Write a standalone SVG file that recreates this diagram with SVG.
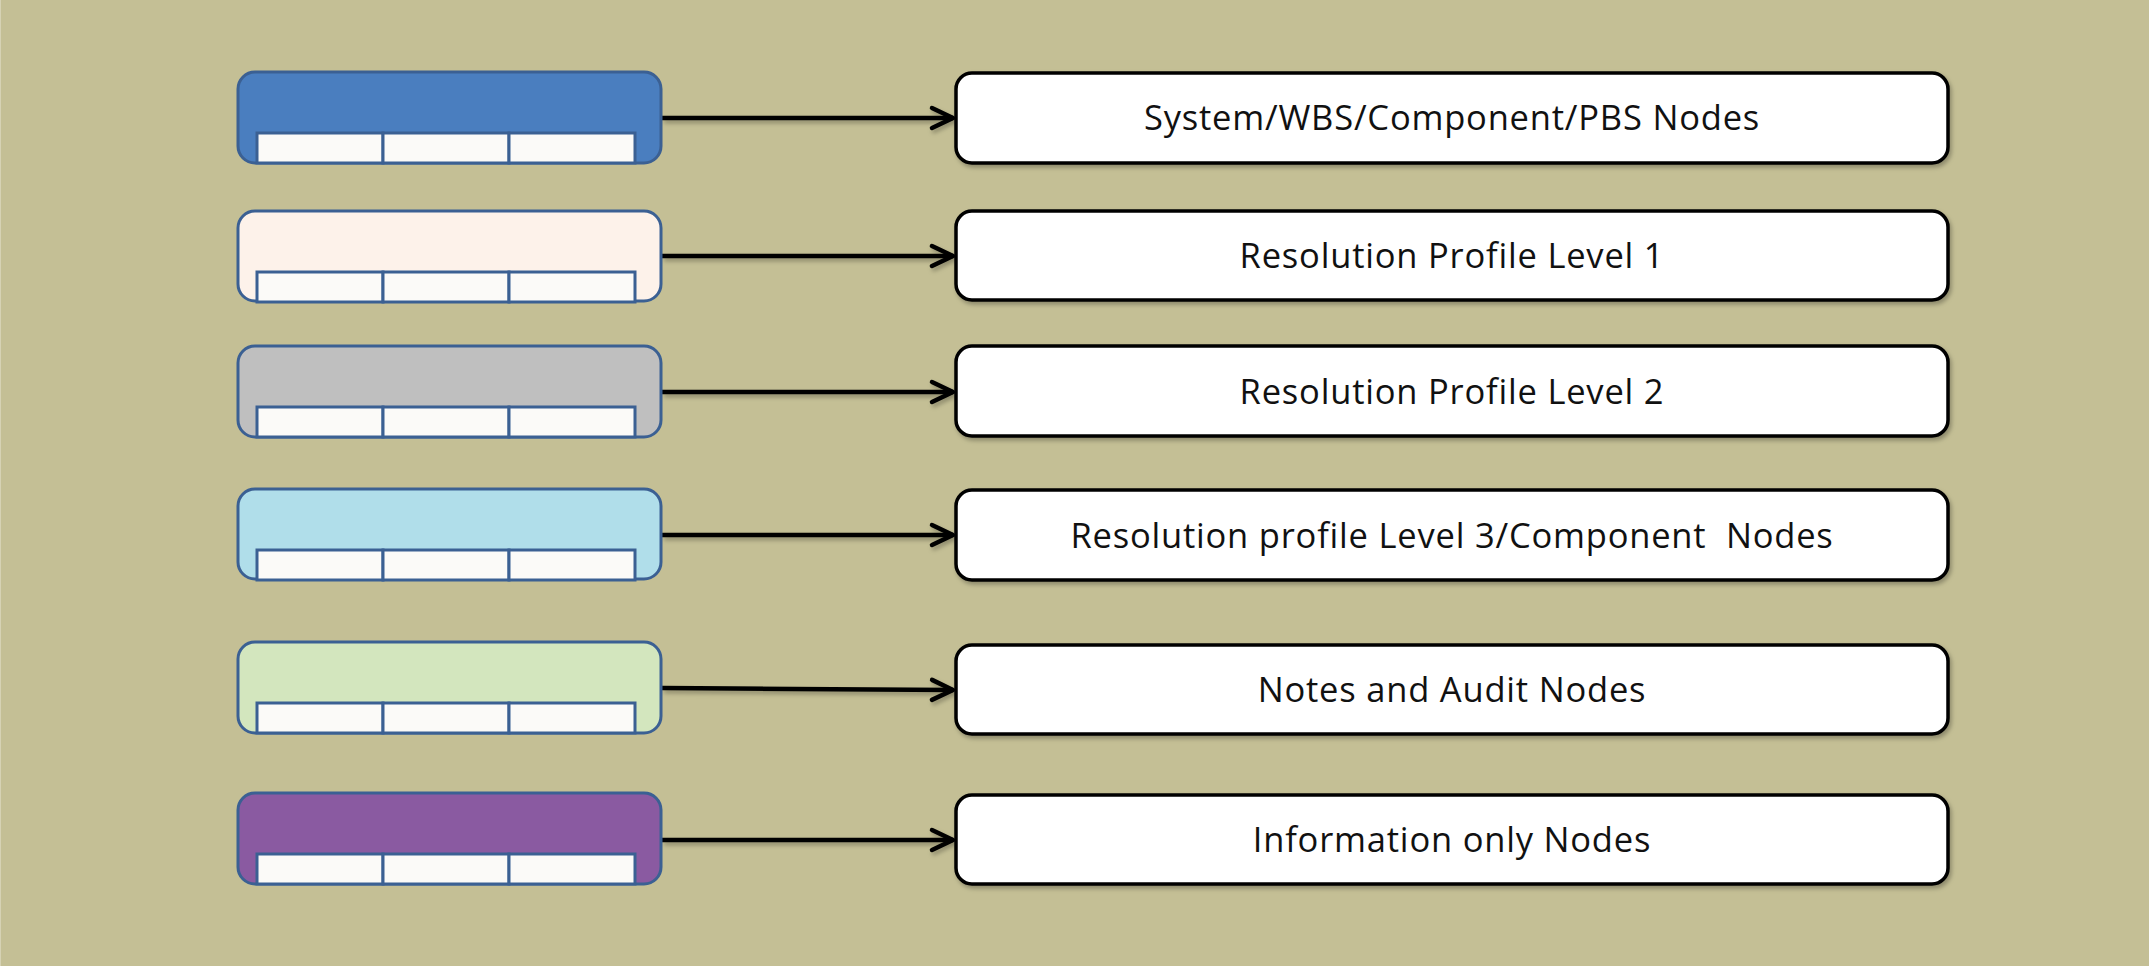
<svg xmlns="http://www.w3.org/2000/svg" width="2149" height="966" viewBox="0 0 2149 966">
  <style>
    .legend { stroke: #3B6093; stroke-width: 3; }
    .cell { fill: #FBFAF8; stroke: #3B6093; stroke-width: 3; }
    .target { fill: #FFFFFF; stroke: #000000; stroke-width: 3.5; }
    .label { font-family: "Open Sans", "Liberation Sans", sans-serif; font-size: 34.5px; letter-spacing: 0.8px; fill: #111111; text-anchor: middle; }
    .link { stroke: #000000; stroke-width: 4.5; fill: none; }
  </style>
  <defs>
    <filter id="soft" x="-5%" y="-20%" width="110%" height="160%">
      <feDropShadow dx="2" dy="3" stdDeviation="2" flood-color="#000000" flood-opacity="0.28"/>
    </filter>
    <marker id="arrow" markerUnits="userSpaceOnUse" markerWidth="30" markerHeight="30" viewBox="0 0 30 30" refX="25" refY="15" orient="auto">
      <path d="M4 5 L25 15 L4 25" fill="none" stroke="#000000" stroke-width="4.5" stroke-linecap="round" stroke-linejoin="round"/>
    </marker>
    <!-- colour swatch with three white slots along its lower edge -->
    <g id="slots">
      <rect class="cell" x="19" y="61" width="126" height="30"/>
      <rect class="cell" x="145" y="61" width="126" height="30"/>
      <rect class="cell" x="271" y="61" width="126" height="30"/>
    </g>
  </defs>

  <rect x="0" y="0" width="2149" height="966" fill="#C4BF95"/>
  <line x1="0.5" y1="0" x2="0.5" y2="966" stroke="#D6D2B4" stroke-width="1"/>

  <!-- connectors -->
  <g id="connectors" filter="url(#soft)">
    <line class="link" x1="662" y1="118" x2="953" y2="118" marker-end="url(#arrow)"/>
    <line class="link" x1="662" y1="256" x2="953" y2="256" marker-end="url(#arrow)"/>
    <line class="link" x1="662" y1="392" x2="953" y2="392" marker-end="url(#arrow)"/>
    <line class="link" x1="662" y1="535" x2="953" y2="535" marker-end="url(#arrow)"/>
    <line class="link" x1="662" y1="688" x2="953" y2="690" marker-end="url(#arrow)"/>
    <line class="link" x1="662" y1="840" x2="953" y2="840" marker-end="url(#arrow)"/>
  </g>

  <!-- colour keys -->
  <g id="key-system" transform="translate(238 72)">
    <rect class="legend" x="0" y="0" width="423" height="91" rx="17" fill="#4A7EBF"/>
    <use href="#slots"/>
  </g>
  <g id="key-level1" transform="translate(238 211)">
    <rect class="legend" x="0" y="0" width="423" height="90" rx="17" fill="#FDF2EA"/>
    <use href="#slots"/>
  </g>
  <g id="key-level2" transform="translate(238 346)">
    <rect class="legend" x="0" y="0" width="423" height="91" rx="17" fill="#BFBFBF"/>
    <use href="#slots"/>
  </g>
  <g id="key-level3" transform="translate(238 489)">
    <rect class="legend" x="0" y="0" width="423" height="90" rx="17" fill="#B0DEEA"/>
    <use href="#slots"/>
  </g>
  <g id="key-notes" transform="translate(238 642)">
    <rect class="legend" x="0" y="0" width="423" height="91" rx="17" fill="#D3E6BE"/>
    <use href="#slots"/>
  </g>
  <g id="key-info" transform="translate(238 793)">
    <rect class="legend" x="0" y="0" width="423" height="91" rx="17" fill="#8A5AA1"/>
    <use href="#slots"/>
  </g>

  <!-- descriptions -->
  <g id="desc-system">
    <rect class="target" x="956" y="73" width="992" height="90" rx="16" filter="url(#soft)"/>
    <text class="label" x="1452" y="130">System/WBS/Component/PBS Nodes</text>
  </g>
  <g id="desc-level1">
    <rect class="target" x="956" y="211" width="992" height="89" rx="16" filter="url(#soft)"/>
    <text class="label" x="1452" y="268">Resolution Profile Level 1</text>
  </g>
  <g id="desc-level2">
    <rect class="target" x="956" y="346" width="992" height="90" rx="16" filter="url(#soft)"/>
    <text class="label" x="1452" y="404">Resolution Profile Level 2</text>
  </g>
  <g id="desc-level3">
    <rect class="target" x="956" y="490" width="992" height="90" rx="16" filter="url(#soft)"/>
    <text class="label" x="1452" y="548" xml:space="preserve">Resolution profile Level 3/Component  Nodes</text>
  </g>
  <g id="desc-notes">
    <rect class="target" x="956" y="645" width="992" height="89" rx="16" filter="url(#soft)"/>
    <text class="label" x="1452" y="702">Notes and Audit Nodes</text>
  </g>
  <g id="desc-info">
    <rect class="target" x="956" y="795" width="992" height="89" rx="16" filter="url(#soft)"/>
    <text class="label" x="1452" y="852">Information only Nodes</text>
  </g>
</svg>
